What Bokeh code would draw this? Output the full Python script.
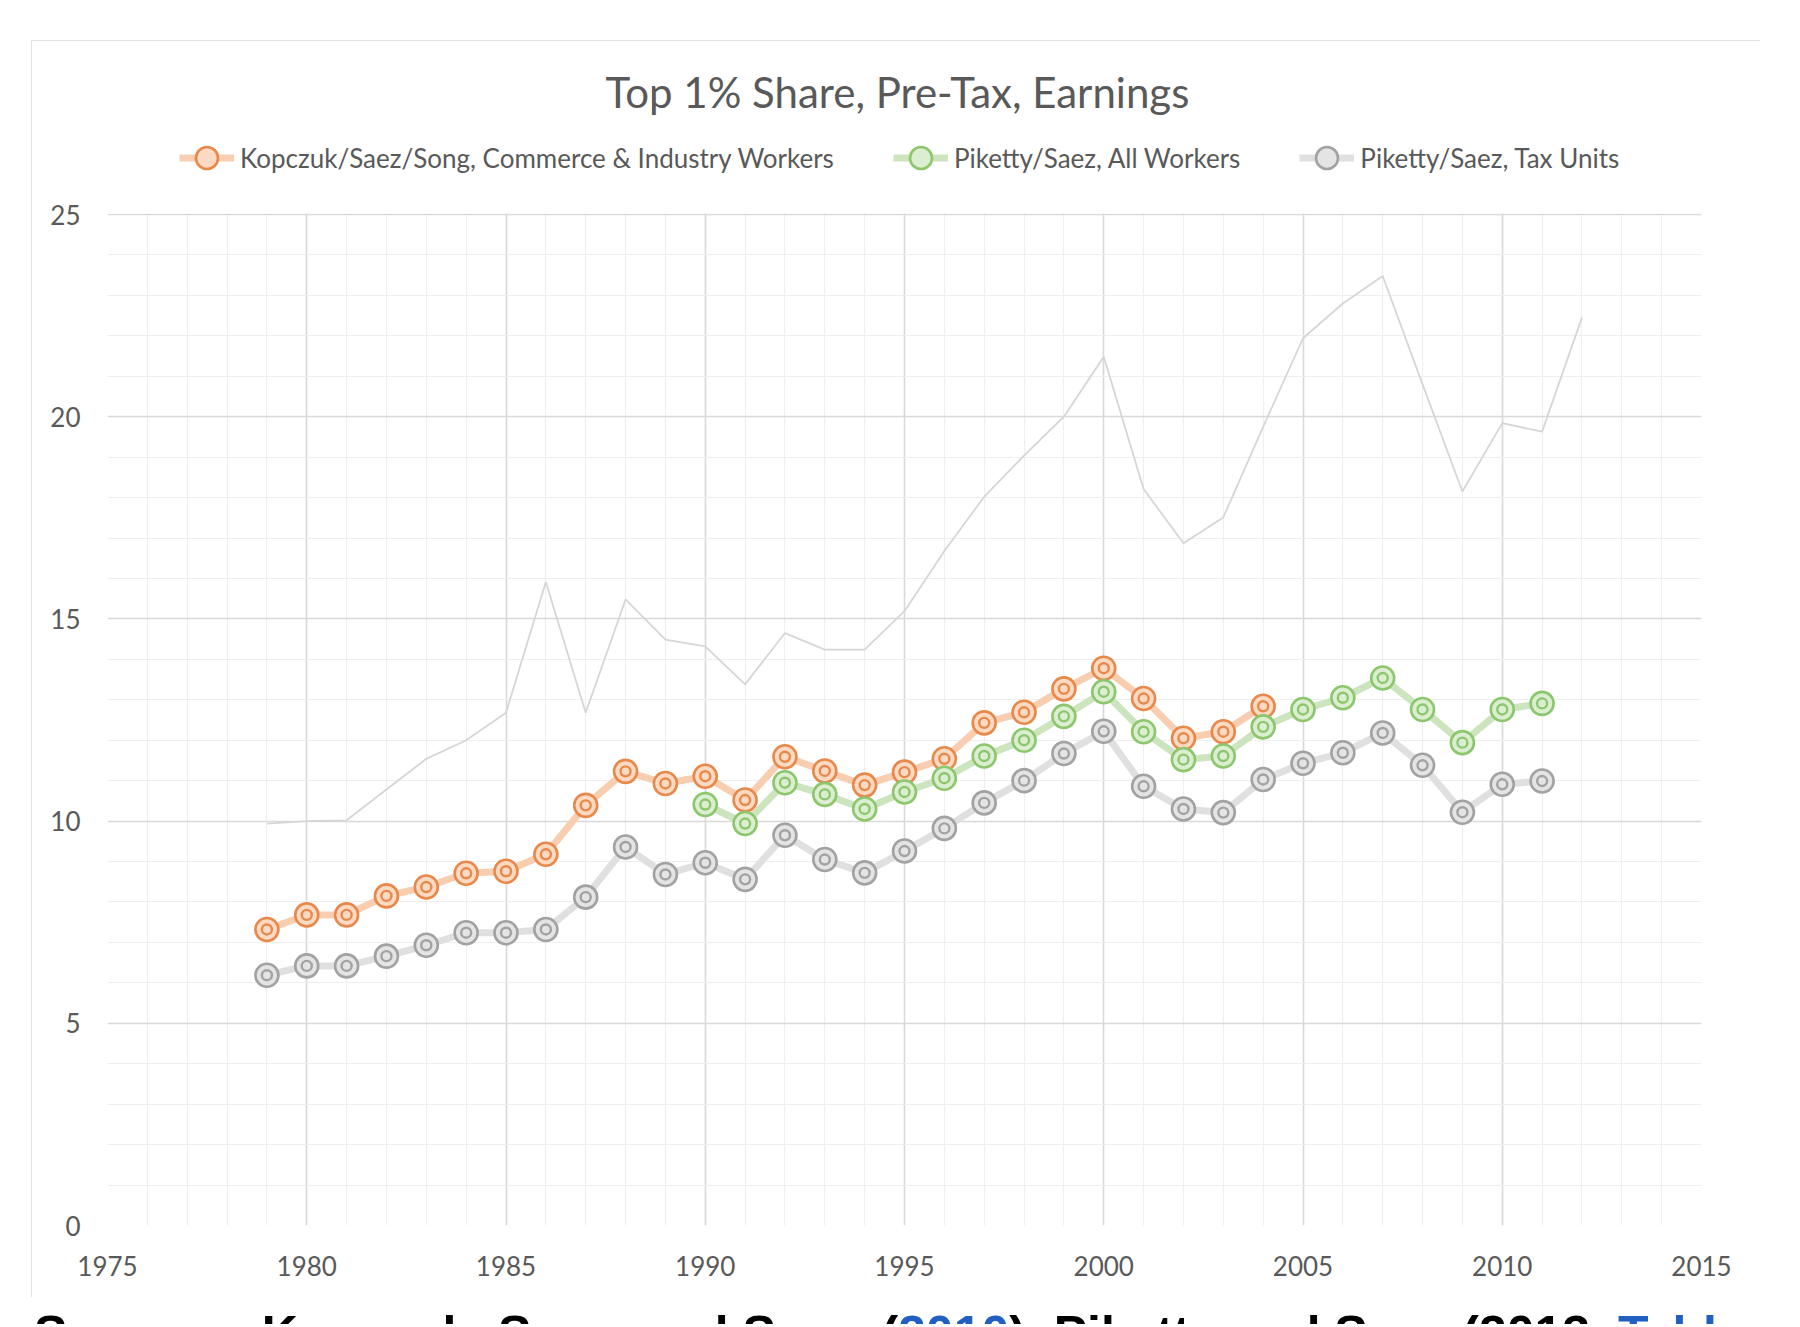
from bokeh.plotting import figure
from bokeh.layouts import column
from bokeh.models import Range1d, FixedTicker, Legend, LegendItem, Div, BoxAnnotation
from bokeh.embed import file_html
from bokeh.resources import INLINE

# data
years_kss = list(range(1979, 2005))
kss_workers = [7.32, 7.68, 7.68, 8.15, 8.37, 8.71, 8.76, 9.18, 10.39, 11.23,
               10.93, 11.11, 10.52, 11.59, 11.24, 10.89, 11.21, 11.54, 12.43, 12.69,
               13.27, 13.78, 13.03, 12.05, 12.21, 12.84]
years_ps = list(range(1990, 2012))
ps_workers = [10.41, 9.94, 10.95, 10.66, 10.30, 10.72, 11.06, 11.61, 12.00, 12.59,
              13.20, 12.21, 11.52, 11.61, 12.33, 12.76, 13.05, 13.54, 12.76, 11.94,
              12.76, 12.91]
years_tu = list(range(1979, 2012))
ps_tax_units = [6.19, 6.42, 6.42, 6.66, 6.93, 7.24, 7.24, 7.32, 8.12, 9.36,
                8.68, 8.97, 8.56, 9.65, 9.05, 8.72, 9.26, 9.82, 10.45, 11.00,
                11.67, 12.22, 10.86, 10.30, 10.21, 11.03, 11.43, 11.69, 12.18, 11.38,
                10.22, 10.91, 10.99]
years_inc = list(range(1979, 2013))
ps_income = [9.94, 10.00, 10.02, 10.78, 11.54, 12.00, 12.68, 15.91, 12.68, 15.48,
             14.49, 14.32, 13.38, 14.65, 14.24, 14.24, 15.19, 16.68, 18.02, 19.04,
             20.00, 21.48, 18.21, 16.87, 17.51, 19.75, 21.94, 22.80, 23.48, 20.80,
             18.15, 19.84, 19.63, 22.45]

x_ticks = [1975, 1980, 1985, 1990, 1995, 2000, 2005, 2010, 2015]
y_ticks = [0, 5, 10, 15, 20, 25]
labels = ["Kopczuk/Saez/Song, Commerce & Industry Workers",
          "Piketty/Saez, All Workers",
          "Piketty/Saez, Tax Units"]

FONT = "Lato"
TXT = "#595959"

# layout: the frame reaches up under the legend, the area above 25 is blanked
W, H = 1729, 1257
B_TOP, B_BOT = 90, 72
frame_h = H - B_TOP - B_BOT
plot_h = 1011                      # pixels between 0 and 25
y_top = 25 * frame_h / plot_h

p = figure(width=W, height=H, output_backend="svg", toolbar_location=None,
           x_range=Range1d(1975, 2015), y_range=Range1d(0, y_top),
           min_border_left=76, min_border_right=59, min_border_top=B_TOP, min_border_bottom=B_BOT,
           outline_line_color=None, margin=(40, 0, 0, 31),
           styles={"outline": "2px solid #D9D9D9", "outline-offset": "-2px"})

p.title.text = "Top 1% Share, Pre-Tax, Earnings"
p.title.align = "left"
p.title.offset = 498
p.title.text_font = FONT
p.title.text_font_size = "42px"
p.title.text_font_style = "normal"
p.title.text_color = TXT
p.title.standoff = 27

p.xaxis.ticker = FixedTicker(ticks=x_ticks, minor_ticks=list(range(1975, 2016)))
p.yaxis.ticker = FixedTicker(ticks=y_ticks, minor_ticks=list(range(0, 26)))
for ax in (p.xaxis[0], p.yaxis[0]):
    ax.axis_line_color = None
    ax.major_tick_line_color = None
    ax.minor_tick_line_color = None
    ax.major_label_text_font = FONT
    ax.major_label_text_font_size = "26px"
    ax.major_label_text_color = TXT
p.xaxis.major_label_standoff = 24
p.yaxis.major_label_standoff = 21

for g in (p.xgrid[0], p.ygrid[0]):
    g.grid_line_color = "#D9D9D9"
    g.grid_line_width = 1.6
    g.minor_grid_line_color = "#EFEFEF"
    g.minor_grid_line_width = 1.2

# blank out the grid above the top of the value axis
p.add_layout(BoxAnnotation(bottom=25.025, fill_color="white", fill_alpha=1,
                           line_color=None, level="underlay"))

# unlabelled thin series
p.line(years_inc, ps_income, line_color="#D6D6D6", line_width=1.8)


def draw_series(x, y, line_col, ring_col, fill_col):
    ln = p.line(x, y, line_color=line_col, line_width=7)
    outer = p.scatter(x, y, size=23, fill_color=fill_col, line_color=ring_col, line_width=2.6)
    inner = p.scatter(x, y, size=10, fill_color=fill_col, line_color=ring_col, line_width=2.4)
    return [ln, outer, inner]


r1 = draw_series(years_kss, kss_workers, "#F8CDB0", "#E8894B", "#FBDAC4")
r2 = draw_series(years_ps, ps_workers, "#CDE5BF", "#8CC76E", "#DCEED1")
r3 = draw_series(years_tu, ps_tax_units, "#E0E0E0", "#A2A2A2", "#E4E4E4")

GLYPH = 55
legend = Legend(items=[LegendItem(label=labels[0], renderers=r1[:2]),
                       LegendItem(label=labels[1], renderers=r2[:2]),
                       LegendItem(label=labels[2], renderers=r3[:2])],
                orientation="horizontal",
                location=(72, frame_h - (118 - B_TOP) - GLYPH // 2),
                border_line_color=None, background_fill_alpha=0,
                label_text_font=FONT, label_text_font_size="26px", label_text_color=TXT,
                glyph_width=GLYPH, glyph_height=GLYPH, label_standoff=6, spacing=59,
                padding=0, margin=0)
p.add_layout(legend, "center")

caption = Div(text='Sources: Kopczuk, Saez, and Song (<span style="color:#2160C0">2010</span>), '
                   'Piketty and Saez (2013, <span style="color:#2160C0">Table</span>',
              width=1760, height=15, margin=(12, 0, 0, 34),
              styles={"font-family": "Liberation Sans", "font-size": "50px",
                      "font-weight": "bold", "line-height": "1", "white-space": "nowrap",
                      "overflow": "hidden", "color": "black"})

page = column(p, caption, spacing=0)

open("out.html", "w").write(file_html(page, INLINE))
